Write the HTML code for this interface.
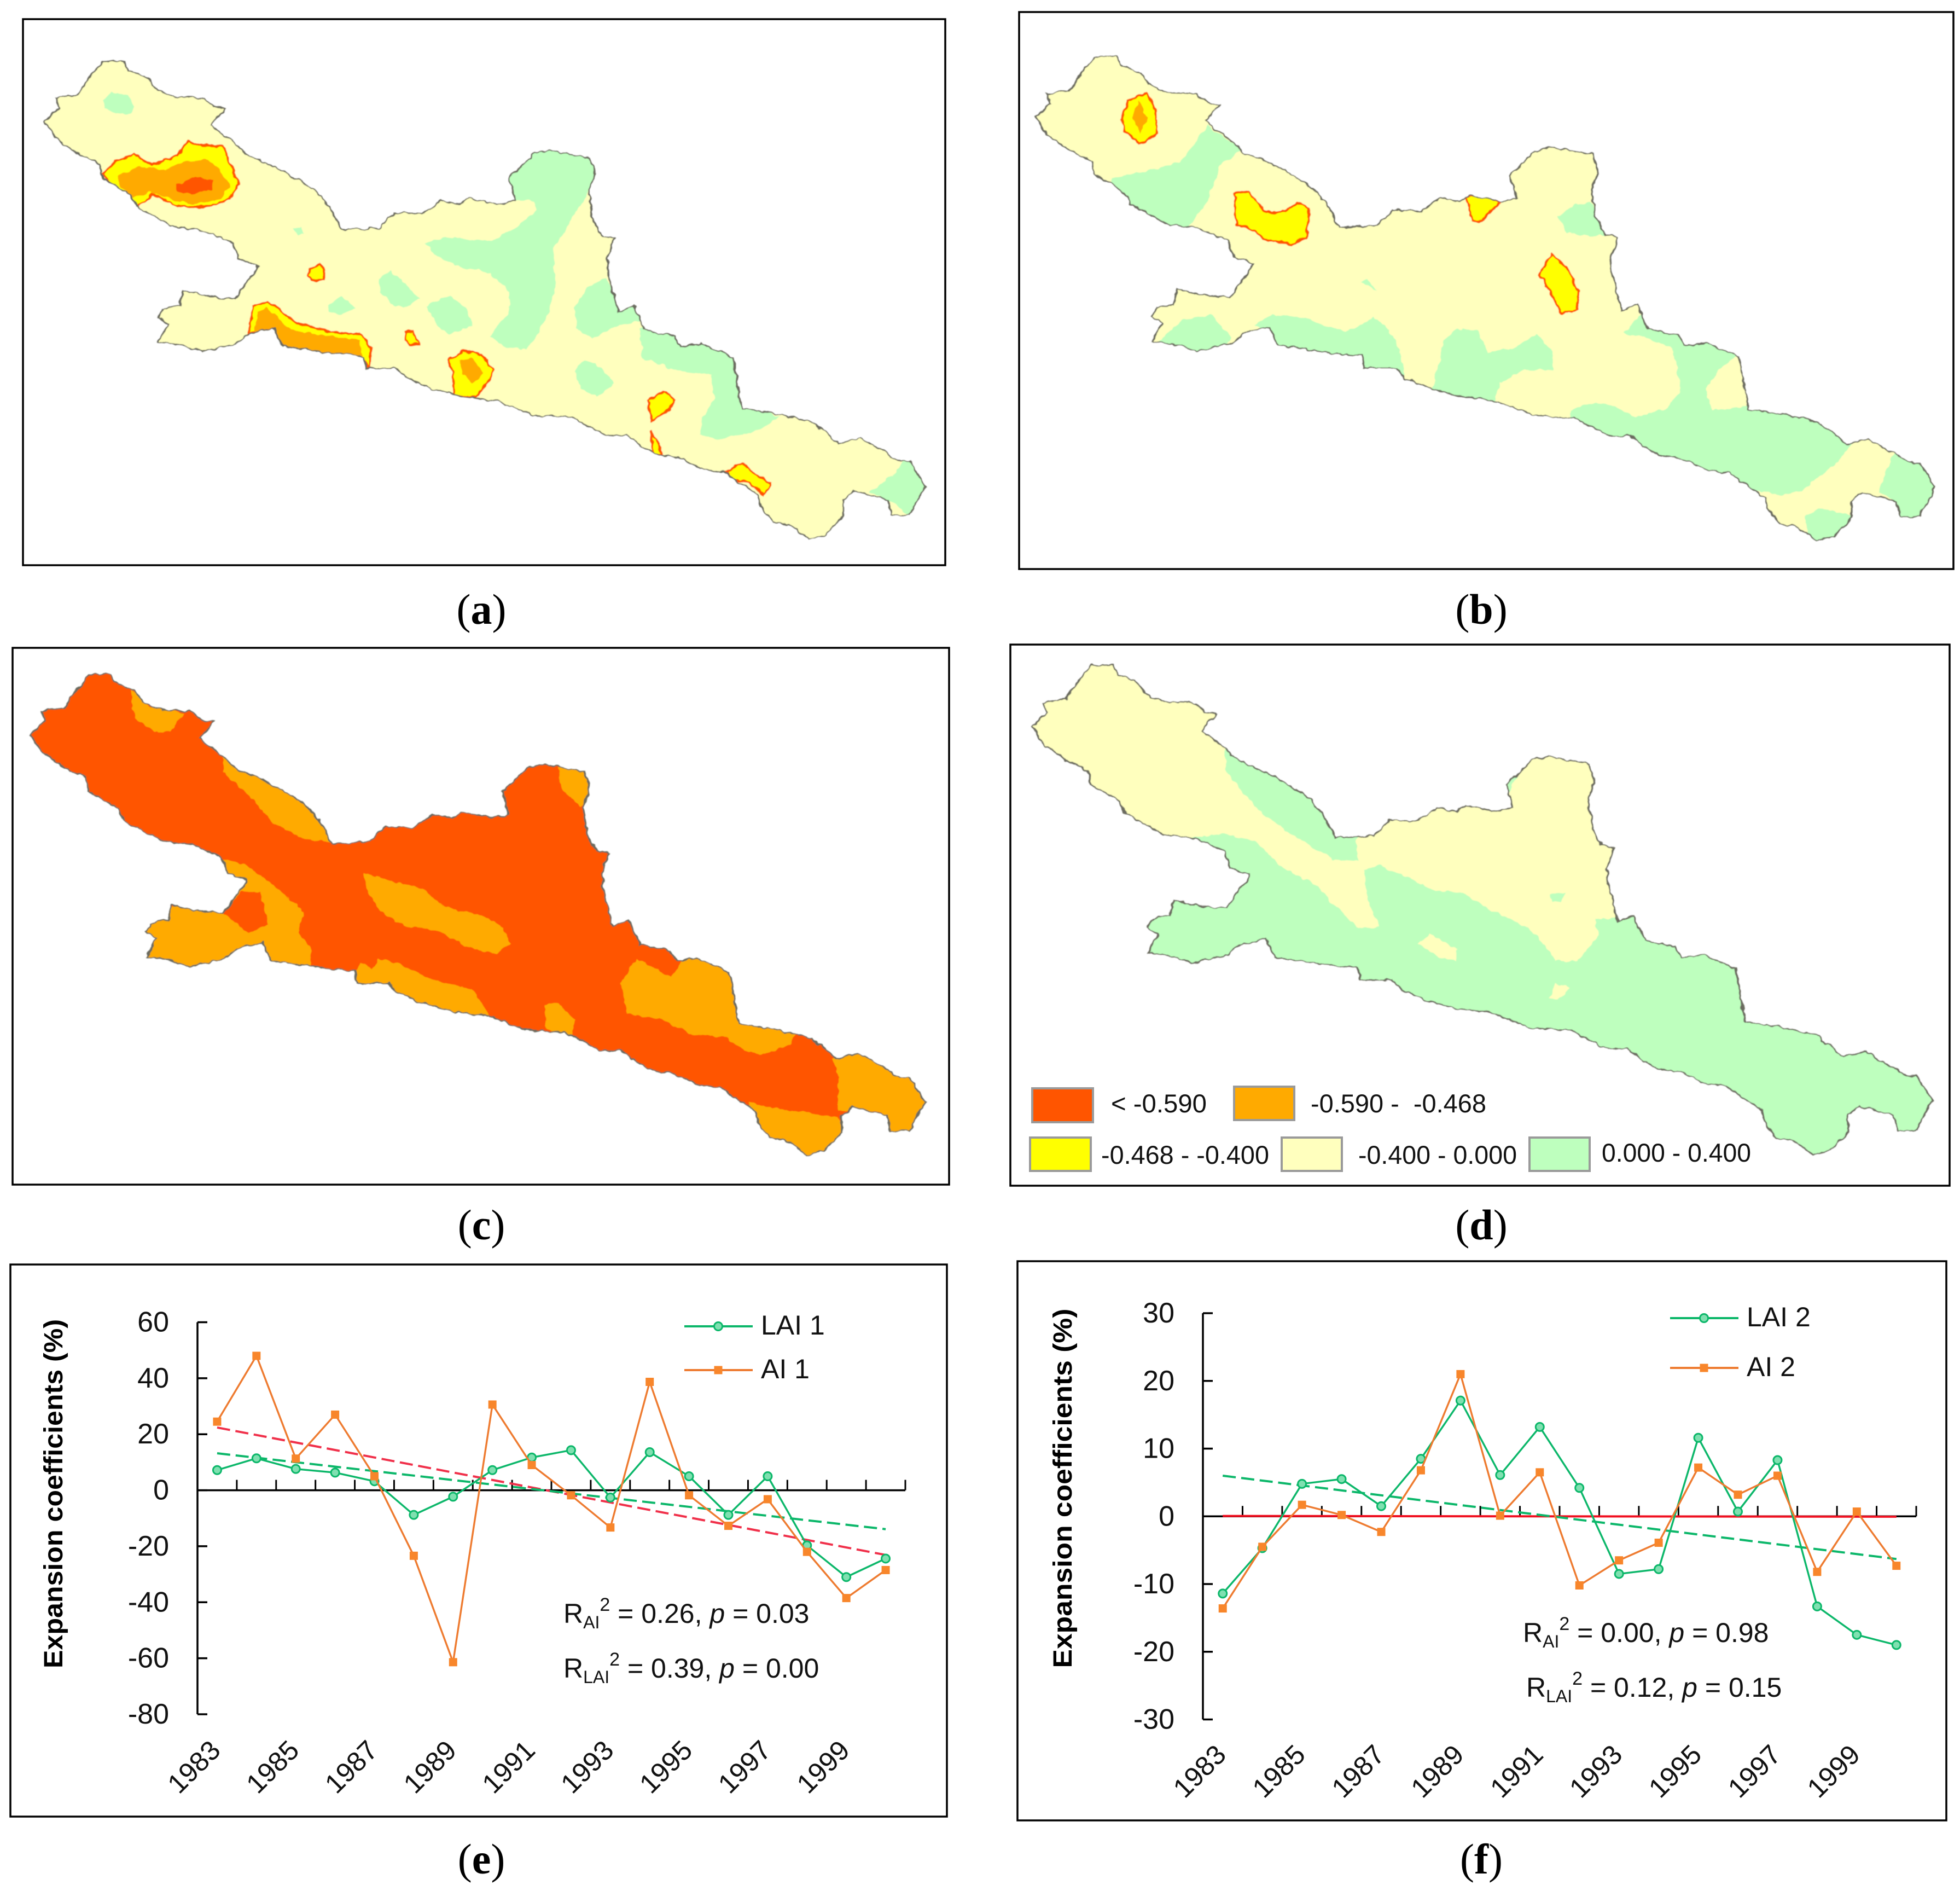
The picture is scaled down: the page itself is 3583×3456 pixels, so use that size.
<!DOCTYPE html>
<html lang="en">
<head>
<meta charset="utf-8">
<title>Spatial patterns and expansion coefficients of LAI and AI</title>
<style>
  html, body { margin: 0; padding: 0; background: #fff; }
  svg { display: block; }
  text { font-family: "Liberation Sans", sans-serif; fill: #111; }
  .caption { font-family: "Liberation Serif", serif; font-size: 78px; text-anchor: middle; fill: #000; }
  .caption tspan { font-weight: bold; }
  .frame { fill: #fff; stroke: #000; stroke-width: 3.5; }
  .edge { fill: none; stroke: #6b6b5f; stroke-width: 2.8; vector-effect: non-scaling-stroke; }
  .green { fill: #BEFFBE; }
  .pale { fill: #FFFFBE; }
  .yellow { fill: #FFFF00; stroke: #FF5500; stroke-width: 4; vector-effect: non-scaling-stroke; }
  .orange { fill: #FFAA00; }
  .red { fill: #FF5500; }
  .swatch { stroke: #9a9a9a; stroke-width: 4; }
  .legend-text { font-size: 47px; }
  .stat { font-size: 50px; }
  .axis-title { font-size: 48px; font-weight: bold; fill: #000; }
  .series-label { font-size: 50px; }
</style>
</head>
<body>
<svg xmlns="http://www.w3.org/2000/svg" width="3583" height="3456" viewBox="0 0 3583 3456">
  <defs>
    <path id="basin-outline" d="M165,152 L200,152 208,175 238,192 250,220 280,240 325,242 345,265 362,268 340,310 375,350 400,385 440,410 485,448 510,475 530,510 550,568 610,563 635,525 680,528 710,495 740,505 755,490 805,505 830,495 820,440 860,380 885,372 950,390 958,430 948,480 955,545 970,585 990,590 978,640 980,680 995,770 1020,755 1038,815 1085,830 1095,855 1130,850 1180,882 1195,1010 1260,1025 1310,1045 1350,1095 1385,1082 1450,1140 1465,1140 1490,1200 1465,1272 1435,1272 1430,1235 1375,1213 1358,1235 1358,1275 1330,1320 1303,1330 1270,1295 1245,1290 1225,1250 1222,1225 1165,1165 1135,1160 1090,1130 1060,1125 1030,1100 1010,1075 975,1075 920,1030 855,1025 800,990 745,980 695,960 655,935 640,910 590,910 585,880 520,870 455,855 440,810 400,825 380,850 325,868 285,850 255,845 272,800 255,785 262,762 290,755 295,718 345,735 378,738 410,670 415,655 385,640 375,600 330,570 280,560 220,510 210,480 165,440 160,405 125,380 90,340 72,300 95,265 90,242 125,235 145,190 Z"/>
    <clipPath id="clip-a"><use href="#basin-outline" transform="matrix(1.1352,0,0,0.7398,0,0)"/></clipPath>
    <clipPath id="clip-b"><use href="#basin-outline" transform="matrix(1.1599,0,0,0.7508,1809.8,-10.6)"/></clipPath>
    <clipPath id="clip-c"><use href="#basin-outline" transform="matrix(1.1535,0,0,0.7449,-27.7,1119.3)"/></clipPath>
    <clipPath id="clip-d"><use href="#basin-outline" transform="matrix(1.1606,0,0,0.7593,1802.8,1100.1)"/></clipPath>
    <filter id="rough" x="-2%" y="-2%" width="104%" height="104%">
      <feTurbulence type="fractalNoise" baseFrequency="0.07" numOctaves="2" seed="4" result="n"/>
      <feDisplacementMap in="SourceGraphic" in2="n" scale="9" xChannelSelector="R" yChannelSelector="G"/>
      <feGaussianBlur stdDeviation="0.9"/>
    </filter>
  </defs>

  <rect x="0" y="0" width="3583" height="3456" fill="#fff"/>

  <!-- PANEL A -->
  <g>
    <rect class="frame" x="42" y="35" width="1686" height="998"/>
    <g filter="url(#rough)">
      <g clip-path="url(#clip-a)">
        <rect class="pale" x="42" y="35" width="1686" height="998"/>
        <g transform="matrix(1.1352,0,0,0.7398,0,0)">
          <polygon class="green" points="165,245 180,228 205,235 218,265 205,285 185,280 168,265"/>
          <polygon class="green" points="850,380 885,365 960,385 960,430 945,480 925,530 905,585 890,620 895,700 885,770 860,840 845,865 810,855 790,830 820,770 820,720 790,675 740,660 700,630 685,600 720,585 790,595 830,565 865,520 860,495 830,495 815,440"/>
          <polygon class="green" points="610,690 630,670 650,695 675,740 650,760 630,750 612,720"/>
          <polygon class="green" points="685,755 725,730 750,760 762,805 725,823 705,805"/>
          <polygon class="green" points="528,755 550,732 572,760 550,778 530,770"/>
          <polygon class="green" points="925,760 945,710 975,685 1000,760 1020,745 1035,790 985,810 955,835 930,815"/>
          <polygon class="green" points="925,915 940,890 970,910 988,945 960,982 935,960"/>
          <polygon class="green" points="1030,810 1085,820 1100,845 1130,840 1190,872 1205,1005 1255,1030 1225,1060 1160,1085 1125,1075 1130,1040 1150,985 1145,925 1090,915 1035,885"/>
          <polygon class="green" points="1400,1215 1440,1170 1460,1130 1500,1200 1470,1280 1440,1245"/>
          <polygon class="green" points="472,565 485,560 490,578 480,580"/>

          <polygon class="yellow" points="165,430 185,400 215,380 245,408 285,385 303,348 320,360 360,362 372,410 385,455 370,490 340,510 290,512 245,480 220,512 205,480 180,460"/>
          <polygon class="orange" points="190,435 225,410 265,420 295,400 335,392 358,425 370,460 355,490 310,505 270,490 240,475 215,490 195,460"/>
          <polygon class="red" points="285,455 315,437 345,445 340,470 310,480 285,472"/>
          <polygon class="yellow" points="500,665 515,652 522,665 522,690 502,692 497,680"/>
          <polygon class="yellow" points="400,825 408,755 432,745 480,800 530,818 580,825 597,860 595,915 585,885 520,880 455,865 440,808"/>
          <polygon class="orange" points="410,820 415,770 428,760 470,815 530,830 578,840 585,885 520,880 455,865 440,808"/>
          <polygon class="yellow" points="653,820 665,820 675,850 660,850 653,840"/>
          <polygon class="yellow" points="722,890 745,866 775,875 795,915 785,945 765,982 732,978 730,930"/>
          <polygon class="orange" points="740,890 760,885 778,920 762,948 745,925"/>
          <polygon class="yellow" points="1042,990 1068,968 1085,985 1080,1010 1050,1038"/>
          <polygon class="yellow" points="1048,1065 1052,1078 1062,1100 1065,1125 1052,1125"/>
          <polygon class="yellow" points="1168,1165 1195,1145 1215,1170 1240,1195 1230,1225 1205,1190 1180,1185"/>
        </g>
      </g>
      <use href="#basin-outline" class="edge" transform="matrix(1.1352,0,0,0.7398,0,0)"/>
    </g>
    <text class="caption" x="880" y="1140">(<tspan>a</tspan>)</text>
  </g>

  <!-- PANEL B -->
  <g>
    <rect class="frame" x="1863" y="22" width="1708" height="1018"/>
    <g filter="url(#rough)">
      <g clip-path="url(#clip-b)">
        <rect class="pale" x="1863" y="22" width="1708" height="1018"/>
        <g transform="matrix(1.1244,0,0,0.7398,1820,0)">
          <polygon class="green" points="190,440 240,425 300,400 345,310 400,370 365,410 340,510 310,565 280,565 240,520 205,510 185,470"/>
          <polygon class="green" points="915,535 945,505 968,500 990,580 950,582 930,575"/>
          <polygon class="green" points="595,695 605,690 620,720"/>
          <polygon class="green" points="260,850 305,790 350,778 385,835 360,875 320,875"/>
          <polygon class="green" points="420,800 450,775 500,785 570,820 615,785 640,815 660,880 665,935 620,925 590,925 575,890 520,885 455,870 435,815"/>
          <polygon class="green" points="710,960 730,840 750,812 785,815 800,870 840,860 880,825 905,870 905,915 860,912 820,945 810,1000 770,1000"/>
          <polygon class="green" points="935,1015 965,995 1000,1000 1040,1030 1090,1010 1115,960 1100,860 1050,830 1020,825 1050,775 1070,805 1120,820 1130,845 1155,835 1215,870 1180,905 1155,960 1165,1015 1230,1000 1300,1015 1345,1035 1395,1090 1370,1140 1310,1210 1280,1225 1255,1215 1210,1210 1160,1185 1080,1150 1030,1110 990,1100 930,1060"/>
          <polygon class="green" points="1435,1215 1460,1120 1500,1130 1540,1205 1505,1290 1465,1290 1465,1240"/>
          <polygon class="green" points="1315,1275 1345,1255 1395,1275 1375,1345 1325,1345 1320,1310"/>

          <polygon class="yellow" points="205,295 215,250 245,230 260,270 262,330 235,355 210,325"/>
          <polygon class="orange" points="222,290 233,250 247,290 235,330"/>
          <polygon class="yellow" points="388,480 410,472 440,525 470,522 490,502 510,515 505,590 480,603 435,590 420,568 392,555"/>
          <polygon class="yellow" points="765,485 790,483 820,500 800,530 790,548 775,545"/>
          <polygon class="yellow" points="883,680 905,628 930,665 948,720 945,765 920,775 905,730 892,695"/>
        </g>
      </g>
      <use href="#basin-outline" class="edge" transform="matrix(1.1599,0,0,0.7508,1809.8,-10.6)"/>
    </g>
    <text class="caption" x="2708" y="1140">(<tspan>b</tspan>)</text>
  </g>

  <!-- PANEL C -->
  <g>
    <rect class="frame" x="23" y="1184" width="1712" height="981"/>
    <g filter="url(#rough)">
      <g clip-path="url(#clip-c)">
        <rect class="red" x="23" y="1184" width="1712" height="981"/>
        <g transform="matrix(1.1352,0,0,0.7143,0,1160)">
          <polygon class="orange" points="212,140 240,185 295,200 275,250 250,250 222,220 212,185"/>
          <polygon class="orange" points="358,300 410,350 465,400 500,440 540,530 490,525 440,480 400,410 360,350"/>
          <polygon class="orange" points="898,340 955,335 955,420 935,440 905,395"/>
          <polygon class="orange" points="585,610 630,630 680,650 715,695 780,720 810,750 822,790 800,818 745,795 710,760 650,745 620,715 595,670"/>
          <polygon class="orange" points="350,570 395,590 440,640 490,710 480,760 500,800 500,870 440,870 400,830 350,870 280,870 220,830 220,700 340,690 360,640"/>
          <polygon class="red" points="360,712 390,655 420,660 432,740 400,765"/>
          <polygon class="orange" points="560,890 580,840 600,855 610,830 640,840 700,885 760,905 795,990 750,985 680,965 620,925 580,910"/>
          <polygon class="orange" points="878,945 900,945 925,985 920,1035 895,1020 878,1000"/>
          <polygon class="orange" points="1000,890 1025,830 1040,840 1080,875 1105,820 1185,850 1200,990 1285,1015 1270,1050 1225,1075 1195,1060 1170,1030 1110,1020 1065,985 1010,970"/>
          <polygon class="orange" points="1340,1085 1385,1050 1520,1150 1520,1285 1420,1285 1420,1225 1380,1210 1350,1220 1350,1130"/>
          <polygon class="orange" points="1205,1195 1260,1215 1350,1235 1365,1275 1335,1340 1285,1340 1225,1305 1205,1240"/>
        </g>
      </g>
      <use href="#basin-outline" class="edge" transform="matrix(1.1535,0,0,0.7449,-27.7,1119.3)"/>
    </g>
    <text class="caption" x="880" y="2265">(<tspan>c</tspan>)</text>
  </g>

  <!-- PANEL D -->
  <g>
    <rect class="frame" x="1847" y="1178" width="1717" height="989"/>
    <g filter="url(#rough)">
      <g clip-path="url(#clip-d)">
        <rect class="green" x="1847" y="1178" width="1717" height="989"/>
        <g transform="matrix(1.1244,0,0,0.7143,1820,1160)">
          <polygon class="pale" points="340,515 250,530 100,350 40,240 150,50 300,100 400,230 372,290 375,350 420,440 480,510 550,575 590,580 585,525 640,450 830,420 870,290 990,310 1020,720 975,730 980,770 945,835 910,835 880,770 860,745 800,700 760,660 715,655 670,620 625,590 600,600 605,680 625,750 590,750 550,690 520,640 470,600 420,525 370,510"/>
          <polygon class="green" points="900,665 925,660 920,680 905,682"/>
          <polygon class="pale" points="688,790 705,765 750,805 750,835 720,825"/>
          <polygon class="pale" points="900,930 910,890 935,905 915,935"/>
        </g>
      </g>
      <use href="#basin-outline" class="edge" transform="matrix(1.1606,0,0,0.7593,1802.8,1100.1)"/>
    </g>
    <g>
      <rect class="red swatch" x="1887" y="1989" width="111" height="62"/>
      <text class="legend-text" x="2031" y="2033" textLength="175" lengthAdjust="spacingAndGlyphs">&lt; -0.590</text>
      <rect class="orange swatch" x="2256" y="1986" width="110" height="61"/>
      <text class="legend-text" x="2396" y="2033" textLength="321" lengthAdjust="spacingAndGlyphs" xml:space="preserve">-0.590 -  -0.468</text>
      <rect fill="#FFFF00" class="swatch" x="1883" y="2079" width="111" height="61"/>
      <text class="legend-text" x="2013" y="2127" textLength="307" lengthAdjust="spacingAndGlyphs">-0.468 - -0.400</text>
      <rect class="pale swatch" x="2343" y="2079" width="110" height="61"/>
      <text class="legend-text" x="2483" y="2127" textLength="290" lengthAdjust="spacingAndGlyphs">-0.400 - 0.000</text>
      <rect class="green swatch" x="2796" y="2079" width="110" height="61"/>
      <text class="legend-text" x="2928" y="2123" textLength="273" lengthAdjust="spacingAndGlyphs">0.000 - 0.400</text>
    </g>
    <text class="caption" x="2708" y="2265">(<tspan>d</tspan>)</text>
  </g>

  <!-- PANEL E -->
  <g>
    <rect class="frame" x="19" y="2311" width="1712" height="1009"/>
    <text class="axis-title" transform="translate(114,2730) rotate(-90)" text-anchor="middle" textLength="638" lengthAdjust="spacingAndGlyphs">Expansion coefficients (%)</text>
    <g id="chart-e"></g>
    <text class="stat" x="1030" y="2966">R<tspan font-size="32" dy="10">AI</tspan><tspan font-size="34" dy="-32">2</tspan><tspan dy="22"> = 0.26, </tspan><tspan font-style="italic">p</tspan> = 0.03</text>
    <text class="stat" x="1030" y="3066">R<tspan font-size="32" dy="10">LAI</tspan><tspan font-size="34" dy="-32">2</tspan><tspan dy="22"> = 0.39, </tspan><tspan font-style="italic">p</tspan> = 0.00</text>
    <text class="caption" x="880" y="3424">(<tspan>e</tspan>)</text>
  </g>

  <!-- PANEL F -->
  <g>
    <rect class="frame" x="1860" y="2305" width="1698" height="1022"/>
    <text class="axis-title" transform="translate(1959,2720) rotate(-90)" text-anchor="middle" textLength="657" lengthAdjust="spacingAndGlyphs">Expansion coefficients (%)</text>
    <g id="chart-f"></g>
    <text class="stat" x="2784" y="3001">R<tspan font-size="32" dy="10">AI</tspan><tspan font-size="34" dy="-32">2</tspan><tspan dy="22"> = 0.00, </tspan><tspan font-style="italic">p</tspan> = 0.98</text>
    <text class="stat" x="2790" y="3101">R<tspan font-size="32" dy="10">LAI</tspan><tspan font-size="34" dy="-32">2</tspan><tspan dy="22"> = 0.12, </tspan><tspan font-style="italic">p</tspan> = 0.15</text>
    <text class="caption" x="2708" y="3424">(<tspan>f</tspan>)</text>
  </g>

<script>
// ---- chart data ----
const years = [1983,1984,1985,1986,1987,1988,1989,1990,1991,1992,1993,1994,1995,1996,1997,1998,1999,2000];
const yearLabels = ['1983','1985','1987','1989','1991','1993','1995','1997','1999'];

const lai1 = [7.2,11.4,7.6,6.3,3.2,-8.8,-2.3,7.2,11.7,14.3,-2.6,13.6,5,-8.8,5,-19.7,-31,-24.4];
const ai1 = [24.5,48,11.3,27,5,-23.4,-61.4,30.6,9,-1.8,-13.3,38.7,-1.8,-12.7,-3.2,-22,-38.5,-28.5];
const lai1Trend = [13.2,-13.9];
const ai1Trend = [22.4,-23.1];
const ticksE = [60,40,20,0,-20,-40,-60,-80];

const lai2 = [-11.4,-4.7,4.8,5.5,1.5,8.5,17.1,6.1,13.2,4.2,-8.5,-7.8,11.6,0.7,8.3,-13.3,-17.5,-19];
const ai2 = [-13.6,-4.5,1.7,0.2,-2.3,6.8,21,0.1,6.5,-10.2,-6.5,-3.9,7.2,3.2,6,-8.2,0.7,-7.3];
const lai2Trend = [6,-6.3];
const ai2Trend = [0.05,-0.05];
const ticksF = [30,20,10,0,-10,-20,-30];

const GREEN = '#0CB76A';
const ORANGE = '#EE7B30';
const MARK = '#F8862B';
const SVGNS = 'http://www.w3.org/2000/svg';

function mk(parent, tag, attrs, txt) {
  const el = document.createElementNS(SVGNS, tag);
  for (const k in attrs) el.setAttribute(k, attrs[k]);
  if (txt !== undefined) el.textContent = txt;
  parent.appendChild(el);
  return el;
}

function drawCircle(root, cx, cy) {
  const c = mk(root, 'circle', {cx: cx, cy: cy, r: 7.5, fill: '#7fe0b0', stroke: GREEN, 'stroke-width': 3});
  
  
}
function drawSquare(root, cx, cy) {
  const s = mk(root, 'rect', {x: cx - 7.5, y: cy - 7.5, width: 15, height: 15, fill: MARK});
  
  
}

function drawChart(root, g, lai, ai, laiTrend, aiTrend, ticks, laiName, aiName, aiTrendColor) {
  const n = years.length;
  const step = (g.right - g.left) / n;
  const x = i => g.left + step * (i + 0.5);
  const yMax = ticks[0], yMin = ticks[ticks.length - 1];
  const y = v => g.top + (yMax - v) / (yMax - yMin) * (g.bottom - g.top);

  // axes
  const yAxis = mk(root, 'line', {x1: g.left, x2: g.left, y1: g.top, y2: g.bottom, stroke: '#000', 'stroke-width': 3.5});
  
  
  const xAxis = mk(root, 'line', {x1: g.left, x2: g.right, y1: y(0), y2: y(0), stroke: '#000', 'stroke-width': 3.5});
  
  

  ticks.forEach(t => {
    const tk = mk(root, 'line', {x1: g.left, x2: g.left + 18, y1: y(t), y2: y(t), stroke: '#000', 'stroke-width': 3.5});
    
    
    const lb = mk(root, 'text', {x: g.left - 52, y: y(t) + 17, 'text-anchor': 'end', 'font-size': 52}, String(t));
    
    
  });
  for (let i = 1; i <= n; i++) {
    const px = g.left + step * i;
    const tk = mk(root, 'line', {x1: px, x2: px, y1: y(0), y2: y(0) - 19, stroke: '#000', 'stroke-width': 3});
    
    
  }
  yearLabels.forEach(label => {
    const i = years.indexOf(Number(label));
    const ax = x(i) + 9, ay = g.labelY;
    const lb = mk(root, 'text', {x: ax, y: ay, 'text-anchor': 'end', 'font-size': 50, transform: 'rotate(-45 ' + ax + ' ' + ay + ')'}, label);
    
    
  });

  // trend lines
  const aiT = mk(root, 'line', {x1: x(0), x2: x(n - 1), y1: y(aiTrend[0]), y2: y(aiTrend[1]), stroke: aiTrendColor, 'stroke-width': 4, 'stroke-dasharray': g.flat ? 'none' : '24 10'});
  
  
  const laiT = mk(root, 'line', {x1: x(0), x2: x(n - 1), y1: y(laiTrend[0]), y2: y(laiTrend[1]), stroke: GREEN, 'stroke-width': 4, 'stroke-dasharray': '24 10'});
  
  

  // series
  const laiLine = mk(root, 'polyline', {points: lai.map((v, i) => x(i) + ',' + y(v)).join(' '), fill: 'none', stroke: GREEN, 'stroke-width': 3.4});
  
  
  lai.forEach((v, i) => drawCircle(root, x(i), y(v)));
  const aiLine = mk(root, 'polyline', {points: ai.map((v, i) => x(i) + ',' + y(v)).join(' '), fill: 'none', stroke: ORANGE, 'stroke-width': 3.4});
  
  
  ai.forEach((v, i) => drawSquare(root, x(i), y(v)));

  // legend
  const l1 = mk(root, 'line', {x1: g.legX, x2: g.legX + 125, y1: g.legY1, y2: g.legY1, stroke: GREEN, 'stroke-width': 4});
  
  
  drawCircle(root, g.legX + 62, g.legY1);
  const t1 = mk(root, 'text', {x: g.legX + 140, y: g.legY1 + 15, 'font-size': 50}, laiName);
  
  
  const l2 = mk(root, 'line', {x1: g.legX, x2: g.legX + 125, y1: g.legY2, y2: g.legY2, stroke: ORANGE, 'stroke-width': 4});
  
  
  drawSquare(root, g.legX + 62, g.legY2);
  const t2 = mk(root, 'text', {x: g.legX + 140, y: g.legY2 + 15, 'font-size': 50}, aiName);
  
  
}

drawChart(document.getElementById('chart-e'),
  {left: 361, right: 1655, top: 2416.5, bottom: 3133, labelY: 3202, legX: 1251, legY1: 2424, legY2: 2504, flat: false},
  lai1, ai1, lai1Trend, ai1Trend, ticksE, 'LAI 1', 'AI 1', '#F0304A');

drawChart(document.getElementById('chart-f'),
  {left: 2199, right: 3503, top: 2400, bottom: 3142.5, labelY: 3210, legX: 3053, legY1: 2409, legY2: 2500, flat: true},
  lai2, ai2, lai2Trend, ai2Trend, ticksF, 'LAI 2', 'AI 2', '#F01020');
</script>
</svg>
</body>
</html>
